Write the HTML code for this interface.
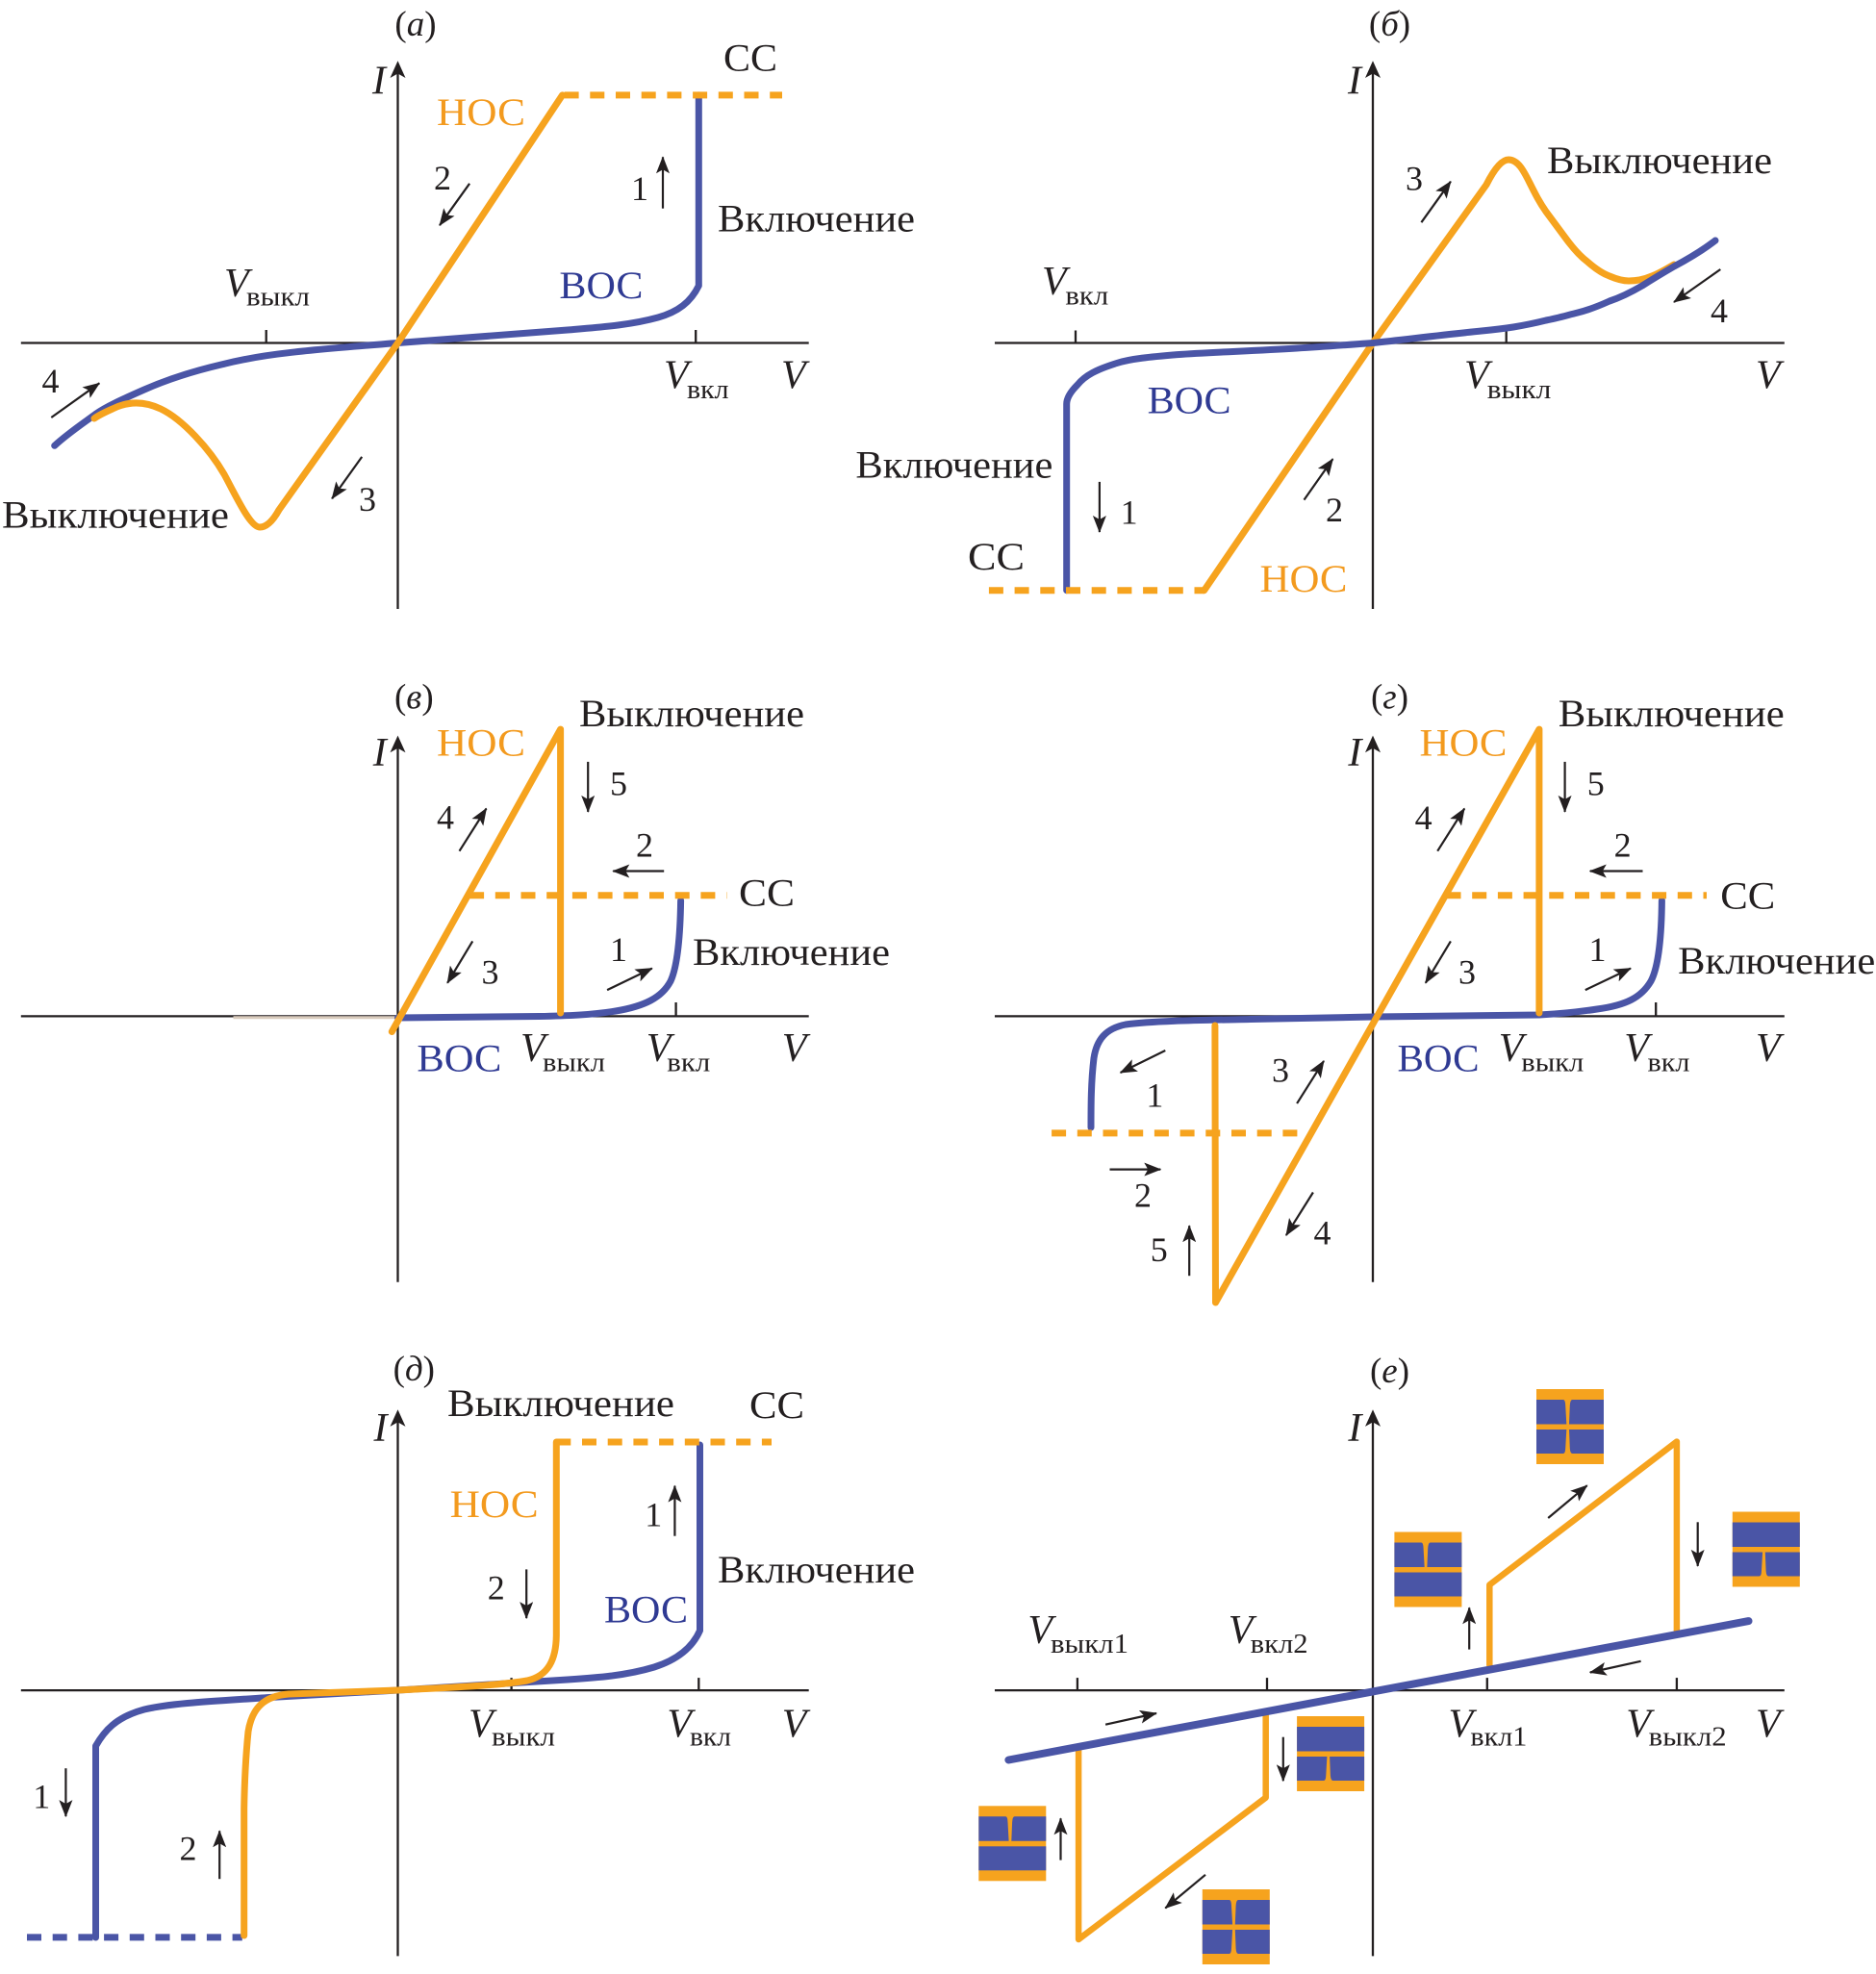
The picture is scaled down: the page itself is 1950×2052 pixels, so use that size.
<!DOCTYPE html>
<html><head><meta charset="utf-8"><style>
html,body{margin:0;padding:0;background:#fff}
svg{display:block}
.ax{stroke:#231f20;stroke-width:2.3;fill:none}
.or{stroke:#F6A31E;stroke-width:7;fill:none;stroke-linecap:round;stroke-linejoin:round}
.bl{stroke:#4A55A6;stroke-width:7;fill:none;stroke-linecap:round;stroke-linejoin:round}
.ds{stroke-dasharray:15 11.7;stroke-linecap:butt}
.ar{stroke:#231f20;stroke-width:2.2;fill:none;marker-end:url(#ah)}
text{font-family:"Liberation Serif","DejaVu Serif",serif;fill:#231f20}
.lb{font-size:40px}
.nm{font-size:36px}
.it{font-style:italic;font-size:42px}
.sb{font-size:29px}
.tt{font-size:37px}
.ot{fill:#F39A1E}
.bt{fill:#2F3A93}
.ob{fill:#F6A31E}
.bb{fill:#4A55A6}
</style></head><body>
<svg xmlns="http://www.w3.org/2000/svg" width="1950" height="2052" viewBox="0 0 1950 2052">
<defs>
<marker id="ah" viewBox="0 0 18 14" markerWidth="18" markerHeight="14" refX="17" refY="7" orient="auto" markerUnits="userSpaceOnUse"><path d="M0,0 L18,7 L0,14 L4,7 Z" fill="#231f20"/></marker>
<path id="t1" d="M0,11 H28 Q30,11 30.2,17 L31.3,36.5 H0 Z M37.3,11 H70 V36.5 H34 L34.8,17 Q35.2,11 37.3,11 Z"/>
<path id="b1" d="M0,42 H31.3 L30.2,61.5 Q30,67 28,67 H0 Z M34,42 H70 V67 H37.3 Q35.2,67 34.8,61.5 Z"/>
</defs>
<rect width="1950" height="2052" fill="#fff"/>

<!-- ============ PANEL (a) ============ -->
<line class="ax" x1="21.8" y1="356.5" x2="840.7" y2="356.5"/>
<line class="ax" x1="413.5" y1="633" x2="413.5" y2="72"/>
<path d="M413.5,63.3 L421.5,81 L413.5,76.5 L405.5,81 Z" fill="#231f20"/>
<line class="ax" x1="276.7" y1="343" x2="276.7" y2="356.5"/>
<line class="ax" x1="723.2" y1="343" x2="723.2" y2="356.5"/>
<path class="bl" d="M726.3,98.9 L726.3,297 C718,314 705,324 684,330 C655,338 625,340 590,343 C530,348 470,352 413.5,356.5 C370,360 330,363 300,366.7 C270,370 250,374 230,379 C200,386 175,394 150,405 C125,416 110,423 100,430 C85,441 70,451 56.7,463.3"/>
<path class="or" d="M584.5,98.9 L413.5,356.5 L290,530 Q280,548 270,548 C260,548 245,515 233,493 C218,467 190,436 167,425 C150,417 133,417 117,425 C108,429 102,432 98,435"/>
<path class="or ds" d="M586.6,98.9 L813,98.9"/>
<text class="tt" x="432" y="37" text-anchor="middle">(<tspan font-style="italic">а</tspan>)</text>
<text class="it" x="394" y="97.7" text-anchor="middle">I</text>
<text class="lb" x="752" y="73.7" textLength="56" lengthAdjust="spacingAndGlyphs">СС</text>
<text class="lb ot" x="454" y="130" textLength="92" lengthAdjust="spacingAndGlyphs">НОС</text>
<text class="nm" x="451" y="197">2</text>
<line class="ar" x1="488.1" y1="190.8" x2="457" y2="234.2"/>
<text class="nm" x="656" y="208">1</text>
<line class="ar" x1="689" y1="216.7" x2="689" y2="163.3"/>
<text class="lb" x="746" y="240.7" textLength="205" lengthAdjust="spacingAndGlyphs">Включение</text>
<text class="lb bt" x="581.4" y="310.1" textLength="87" lengthAdjust="spacingAndGlyphs">ВОС</text>
<text class="it" x="233" y="308">V</text>
<text class="sb" x="256" y="317.5" textLength="66" lengthAdjust="spacingAndGlyphs">выкл</text>
<text class="it" x="690" y="403.3">V</text>
<text class="sb" x="714" y="414" textLength="43.6" lengthAdjust="spacingAndGlyphs">вкл</text>
<text class="it" x="812" y="403.3">V</text>
<text class="nm" x="43.5" y="408">4</text>
<line class="ar" x1="53.3" y1="434" x2="103.3" y2="398.3"/>
<text class="nm" x="373" y="531">3</text>
<line class="ar" x1="376.2" y1="474.9" x2="345.1" y2="518.3"/>
<text class="lb" x="2" y="548.5" textLength="236" lengthAdjust="spacingAndGlyphs">Выключение</text>

<!-- ============ PANEL (б) ============ -->
<line class="ax" x1="1034" y1="356.5" x2="1854.8" y2="356.5"/>
<line class="ax" x1="1427" y1="633" x2="1427" y2="72"/>
<path d="M1427,63.3 L1435,81 L1427,76.5 L1419,81 Z" fill="#231f20"/>
<line class="ax" x1="1118" y1="343.5" x2="1118" y2="356.5"/>
<line class="ax" x1="1565.7" y1="343.5" x2="1565.7" y2="356.5"/>
<path class="or" d="M1251.7,613.7 L1427,356.5 L1545,192 Q1558,166 1568,166 C1578,166 1584,178 1590,190 C1596,202 1600,210 1607,220 L1627,247 C1635,258 1642,266 1650,272 C1658,279 1665,284 1673,287 C1680,290 1686,292 1693,292 C1702,292 1710,290 1717,287 C1725,284 1733,279 1740,275"/>
<path class="bl" d="M1783,250 C1770,260 1755,269 1740,277 C1728,284 1718,290 1707,297 C1695,304 1685,309 1673,313 C1662,318 1652,322 1640,325 C1628,328 1618,331 1607,333 C1595,336 1585,338 1573,340 C1560,342 1550,343 1540,344 C1500,348 1460,353 1427,356.5 C1400,358.5 1375,360.5 1348,362 C1300,365 1260,366 1223.7,368.6 C1195,371 1175,373 1161.5,377.3 C1140,384 1128,390 1120,400 C1112,408 1108.7,414 1108.7,420 L1108.7,613.7"/>
<path class="or ds" d="M1027.9,613.7 L1251.7,613.7"/>
<text class="tt" x="1444.5" y="37" text-anchor="middle">(<tspan font-style="italic">б</tspan>)</text>
<text class="it" x="1408" y="97.6" text-anchor="middle">I</text>
<text class="it" x="1083" y="305.8">V</text>
<text class="sb" x="1107.4" y="316.6" textLength="44.8" lengthAdjust="spacingAndGlyphs">вкл</text>
<text class="it" x="1522" y="403.3">V</text>
<text class="sb" x="1545.8" y="414.2" textLength="66.5" lengthAdjust="spacingAndGlyphs">выкл</text>
<text class="it" x="1825" y="403.3">V</text>
<text class="lb bt" x="1192.6" y="429.4" textLength="87" lengthAdjust="spacingAndGlyphs">ВОС</text>
<text class="lb" x="889.4" y="496.6" textLength="205" lengthAdjust="spacingAndGlyphs">Включение</text>
<line class="ar" x1="1142.9" y1="500.9" x2="1142.9" y2="553"/>
<text class="nm" x="1164.6" y="544.3">1</text>
<text class="lb" x="1006" y="592" textLength="59" lengthAdjust="spacingAndGlyphs">СС</text>
<text class="lb ot" x="1309.5" y="615" textLength="91" lengthAdjust="spacingAndGlyphs">НОС</text>
<line class="ar" x1="1355.5" y1="519.6" x2="1385.4" y2="477.1"/>
<text class="nm" x="1378" y="542">2</text>
<text class="nm" x="1461" y="197.3">3</text>
<line class="ar" x1="1477.4" y1="231.2" x2="1507.9" y2="188.7"/>
<text class="lb" x="1608" y="180" textLength="234" lengthAdjust="spacingAndGlyphs">Выключение</text>
<line class="ar" x1="1788.3" y1="280" x2="1740" y2="314"/>
<text class="nm" x="1778" y="335">4</text>

<!-- ============ PANEL (в) ============ -->
<line class="ax" x1="21.8" y1="1056.4" x2="840.7" y2="1056.4"/>
<line class="ax" x1="413.5" y1="1332.7" x2="413.5" y2="773"/>
<path d="M413.5,764.6 L421.5,782.3 L413.5,777.8 L405.5,782.3 Z" fill="#231f20"/>
<line class="ax" x1="584.5" y1="1042" x2="584.5" y2="1056.4"/>
<line class="ax" x1="702.6" y1="1042" x2="702.6" y2="1056.4"/>
<line x1="242.5" y1="1057.8" x2="413.5" y2="1057.8" stroke="#d9cbbd" stroke-width="3"/>
<path class="bl" d="M707.6,936 C707,975 704,1005 697,1020 C688,1037 670,1046 640,1051 C615,1055 590,1056 560,1056.5 L413.5,1058"/>
<path class="or" d="M407.3,1072.5 L582.6,758.1 L582.6,1053"/>
<path class="or ds" d="M488.1,930.7 L755.5,930.7"/>
<text class="tt" x="430.3" y="736.4" text-anchor="middle">(<tspan font-style="italic">в</tspan>)</text>
<text class="it" x="394.8" y="796.2" text-anchor="middle">I</text>
<text class="lb ot" x="454" y="785.4" textLength="92" lengthAdjust="spacingAndGlyphs">НОС</text>
<text class="lb" x="602" y="755" textLength="234" lengthAdjust="spacingAndGlyphs">Выключение</text>
<line class="ar" x1="611.2" y1="791.9" x2="611.2" y2="843.9"/>
<text class="nm" x="634" y="826.6">5</text>
<text class="nm" x="661" y="890.3">2</text>
<line class="ar" x1="690.2" y1="905.5" x2="637.3" y2="905.5"/>
<text class="lb" x="768" y="941.5" textLength="58" lengthAdjust="spacingAndGlyphs">СС</text>
<text class="nm" x="454" y="861.3">4</text>
<line class="ar" x1="477.5" y1="884.7" x2="505.5" y2="840.5"/>
<line class="ar" x1="491.2" y1="978.4" x2="465.1" y2="1021.8"/>
<text class="nm" x="500.5" y="1022.6">3</text>
<text class="nm" x="634" y="998.8">1</text>
<line class="ar" x1="631.1" y1="1029.1" x2="677.8" y2="1006.6"/>
<text class="lb" x="720" y="1003.1" textLength="205" lengthAdjust="spacingAndGlyphs">Включение</text>
<text class="lb bt" x="433.4" y="1113.7" textLength="88" lengthAdjust="spacingAndGlyphs">ВОС</text>
<text class="it" x="541" y="1102.9">V</text>
<text class="sb" x="564" y="1113.7" textLength="65" lengthAdjust="spacingAndGlyphs">выкл</text>
<text class="it" x="671.7" y="1102.9">V</text>
<text class="sb" x="693.3" y="1113.7" textLength="45" lengthAdjust="spacingAndGlyphs">вкл</text>
<text class="it" x="812.8" y="1102.9">V</text>

<!-- ============ PANEL (г) ============ -->
<line class="ax" x1="1034" y1="1056.4" x2="1854.8" y2="1056.4"/>
<line class="ax" x1="1427" y1="1332.7" x2="1427" y2="773"/>
<path d="M1427,764.6 L1435,782.3 L1427,777.8 L1419,782.3 Z" fill="#231f20"/>
<line class="ax" x1="1721.2" y1="1042" x2="1721.2" y2="1056.4"/>
<path class="bl" d="M1727.4,936 C1727,975 1724,1005 1716,1020 C1706,1037 1690,1045 1660,1049 C1640,1052 1620,1054 1600,1055 L1427,1057 L1300,1059.5 C1250,1060.5 1200,1061 1170,1065 C1150,1069 1140,1080 1137,1100 C1134,1125 1134,1150 1134,1172"/>
<path class="or" d="M1262.9,1066 L1263.5,1354 L1599.9,758.1 L1599.9,1053"/>
<path class="or ds" d="M1503.5,930.7 L1774,930.7"/>
<path class="or ds" d="M1093.1,1177.9 L1354.3,1177.9"/>
<text class="tt" x="1444.5" y="736.4" text-anchor="middle">(<tspan font-style="italic">г</tspan>)</text>
<text class="it" x="1408.4" y="796.2" text-anchor="middle">I</text>
<text class="lb ot" x="1475.5" y="785.4" textLength="91" lengthAdjust="spacingAndGlyphs">НОС</text>
<text class="lb" x="1619.8" y="755" textLength="235" lengthAdjust="spacingAndGlyphs">Выключение</text>
<line class="ar" x1="1626.6" y1="791.9" x2="1626.6" y2="843.9"/>
<text class="nm" x="1649.7" y="826.6">5</text>
<text class="nm" x="1677.6" y="890.3">2</text>
<line class="ar" x1="1707.5" y1="905.5" x2="1652.8" y2="905.5"/>
<text class="lb" x="1788.3" y="944.6" textLength="57" lengthAdjust="spacingAndGlyphs">СС</text>
<text class="nm" x="1470.6" y="862.2">4</text>
<line class="ar" x1="1494.2" y1="884.7" x2="1522.2" y2="840.5"/>
<line class="ar" x1="1507.9" y1="978.4" x2="1481.8" y2="1021.8"/>
<text class="nm" x="1516" y="1022.6">3</text>
<text class="nm" x="1651.5" y="998.8">1</text>
<line class="ar" x1="1647.8" y1="1029.1" x2="1695" y2="1006.6"/>
<text class="lb" x="1744.2" y="1011.8" textLength="205" lengthAdjust="spacingAndGlyphs">Включение</text>
<text class="lb bt" x="1452.5" y="1113.7" textLength="85" lengthAdjust="spacingAndGlyphs">ВОС</text>
<text class="it" x="1557.7" y="1102.9">V</text>
<text class="sb" x="1581.3" y="1113.7" textLength="65" lengthAdjust="spacingAndGlyphs">выкл</text>
<text class="it" x="1688.3" y="1102.9">V</text>
<text class="sb" x="1712.5" y="1113.7" textLength="44" lengthAdjust="spacingAndGlyphs">вкл</text>
<text class="it" x="1825" y="1102.9">V</text>
<line class="ar" x1="1211.3" y1="1092" x2="1164.6" y2="1115"/>
<text class="nm" x="1191.4" y="1150.6">1</text>
<text class="nm" x="1322" y="1124.5">3</text>
<line class="ar" x1="1348.1" y1="1147.1" x2="1376" y2="1102.9"/>
<line class="ar" x1="1153.5" y1="1215.6" x2="1206.3" y2="1215.6"/>
<text class="nm" x="1179" y="1254.7">2</text>
<line class="ar" x1="1364.9" y1="1239.5" x2="1336.9" y2="1284.1"/>
<text class="nm" x="1365.5" y="1293.7">4</text>
<text class="nm" x="1195.7" y="1311">5</text>
<line class="ar" x1="1236.2" y1="1326.2" x2="1236.2" y2="1274.2"/>

<!-- ============ PANEL (д) ============ -->
<line class="ax" x1="21.8" y1="1757.1" x2="840.7" y2="1757.1"/>
<line class="ax" x1="413.5" y1="2033.4" x2="413.5" y2="1473.6"/>
<path d="M413.5,1465.2 L421.5,1482.9 L413.5,1478.4 L405.5,1482.9 Z" fill="#231f20"/>
<line class="ax" x1="531.6" y1="1744.1" x2="531.6" y2="1757.1"/>
<line class="ax" x1="726.3" y1="1744.1" x2="726.3" y2="1757.1"/>
<path class="bl" d="M727.5,1502 L727.5,1695 C720,1712 705,1725 680,1733 C650,1742 620,1744 590,1746 L413.5,1757 L280,1764.5 C230,1768 180,1770 150,1777 C120,1785 108,1800 99.5,1815 L99.5,2014"/>
<path class="bl ds" d="M28,2013.9 L251.8,2013.9"/>
<path class="or" d="M578.3,1499 L578.3,1700 C578,1725 570,1742 548,1747 C520,1752 470,1754 413.5,1757 L300,1761 C275,1763 262,1775 258,1800 C255,1830 254,1860 253.7,1880 L253.7,2012"/>
<path class="or ds" d="M578.3,1499 L802,1499"/>
<text class="tt" x="430.3" y="1435" text-anchor="middle">(<tspan font-style="italic">д</tspan>)</text>
<text class="it" x="395.5" y="1497.8" text-anchor="middle">I</text>
<text class="lb" x="465" y="1471.8" textLength="236" lengthAdjust="spacingAndGlyphs">Выключение</text>
<text class="lb" x="779" y="1474" textLength="57" lengthAdjust="spacingAndGlyphs">СС</text>
<text class="lb ot" x="467.6" y="1577" textLength="92" lengthAdjust="spacingAndGlyphs">НОС</text>
<text class="nm" x="506.8" y="1662.6">2</text>
<line class="ar" x1="547.2" y1="1631.4" x2="547.2" y2="1682.1"/>
<text class="nm" x="670.3" y="1586.7">1</text>
<line class="ar" x1="701.4" y1="1596.7" x2="701.4" y2="1544.6"/>
<text class="lb" x="746" y="1645.2" textLength="205" lengthAdjust="spacingAndGlyphs">Включение</text>
<text class="lb bt" x="628" y="1686.4" textLength="87" lengthAdjust="spacingAndGlyphs">ВОС</text>
<text class="it" x="487" y="1805.7">V</text>
<text class="sb" x="511" y="1814.4" textLength="66" lengthAdjust="spacingAndGlyphs">выкл</text>
<text class="it" x="693.4" y="1805.7">V</text>
<text class="sb" x="717" y="1814.4" textLength="43" lengthAdjust="spacingAndGlyphs">вкл</text>
<text class="it" x="812.8" y="1805.7">V</text>
<text class="nm" x="34.2" y="1879.4">1</text>
<line class="ar" x1="68.4" y1="1838.2" x2="68.4" y2="1888.1"/>
<text class="nm" x="186.5" y="1933.6">2</text>
<line class="ar" x1="228.2" y1="1953.2" x2="228.2" y2="1903.3"/>

<!-- ============ PANEL (е) ============ -->
<line class="ax" x1="1034" y1="1757.1" x2="1854.8" y2="1757.1"/>
<line class="ax" x1="1427" y1="2033.4" x2="1427" y2="1473.6"/>
<path d="M1427,1465.2 L1435,1482.9 L1427,1478.4 L1419,1482.9 Z" fill="#231f20"/>
<line class="ax" x1="1119.9" y1="1744.1" x2="1119.9" y2="1757.1"/>
<line class="ax" x1="1317" y1="1744.1" x2="1317" y2="1757.1"/>
<line class="ax" x1="1545.8" y1="1744.1" x2="1545.8" y2="1757.1"/>
<line class="ax" x1="1742.9" y1="1744.1" x2="1742.9" y2="1757.1"/>
<path class="or" style="stroke-width:6.5" d="M1548.3,1731 L1548.3,1647.4 L1742.9,1498.6 L1742.9,1697.3"/>
<path class="or" style="stroke-width:6.5" d="M1121.1,1816.5 L1121.1,2016 L1315.7,1868.6 L1315.7,1781.8"/>
<path class="bl" style="stroke-width:8" d="M1048.4,1829.5 L1817.5,1685.1"/>
<text class="tt" x="1444.5" y="1437" text-anchor="middle">(<tspan font-style="italic">е</tspan>)</text>
<text class="it" x="1408.4" y="1497.8" text-anchor="middle">I</text>
<text class="it" x="1068.4" y="1708.1">V</text>
<text class="sb" x="1092" y="1718.1" textLength="81" lengthAdjust="spacingAndGlyphs">выкл1</text>
<text class="it" x="1276.7" y="1708.1">V</text>
<text class="sb" x="1299.6" y="1718.1" textLength="60" lengthAdjust="spacingAndGlyphs">вкл2</text>
<text class="it" x="1505.5" y="1805.7">V</text>
<text class="sb" x="1528.4" y="1814.4" textLength="59" lengthAdjust="spacingAndGlyphs">вкл1</text>
<text class="it" x="1690.2" y="1805.7">V</text>
<text class="sb" x="1713.7" y="1814.4" textLength="81" lengthAdjust="spacingAndGlyphs">выкл2</text>
<text class="it" x="1825" y="1805.7">V</text>
<line class="ar" x1="1149.1" y1="1792.7" x2="1202" y2="1781"/>
<line class="ar" x1="1705.6" y1="1726.8" x2="1652.8" y2="1738.5"/>
<line class="ar" x1="1764.7" y1="1582.3" x2="1764.7" y2="1627.9"/>
<line class="ar" x1="1609.2" y1="1578" x2="1649.7" y2="1544.2"/>
<line class="ar" x1="1527.2" y1="1714.6" x2="1527.2" y2="1671.3"/>
<line class="ar" x1="1333.8" y1="1805.7" x2="1333.8" y2="1851.2"/>
<line class="ar" x1="1253" y1="1948.8" x2="1211.3" y2="1983.5"/>
<line class="ar" x1="1102.5" y1="1933.6" x2="1102.5" y2="1890.3"/>

<!-- icons -->
<!-- 1 both split -->
<g transform="translate(1597,1444)">
<rect width="70" height="78" class="ob"/>
<use href="#t1" class="bb"/>
<use href="#b1" class="bb"/>
</g>
<!-- 2 top split -->
<g transform="translate(1449.4,1592.5)">
<rect width="70" height="78" class="ob"/>
<use href="#t1" class="bb"/>
<rect class="bb" y="42" width="70" height="25"/>
</g>
<!-- 3 bottom split -->
<g transform="translate(1800.8,1571.5)">
<rect width="70" height="78" class="ob"/>
<rect class="bb" y="11" width="70" height="25.5"/>
<use href="#b1" class="bb"/>
</g>
<!-- 4 bottom split -->
<g transform="translate(1348.1,1784)">
<rect width="70" height="78" class="ob"/>
<rect class="bb" y="11" width="70" height="25.5"/>
<use href="#b1" class="bb"/>
</g>
<!-- 5 top split -->
<g transform="translate(1017.3,1877.3)">
<rect width="70" height="78" class="ob"/>
<use href="#t1" class="bb"/>
<rect class="bb" y="42" width="70" height="25"/>
</g>
<!-- 6 both split -->
<g transform="translate(1249.8,1964)">
<rect width="70" height="78" class="ob"/>
<use href="#t1" class="bb"/>
<use href="#b1" class="bb"/>
</g>
</svg>
</body></html>
